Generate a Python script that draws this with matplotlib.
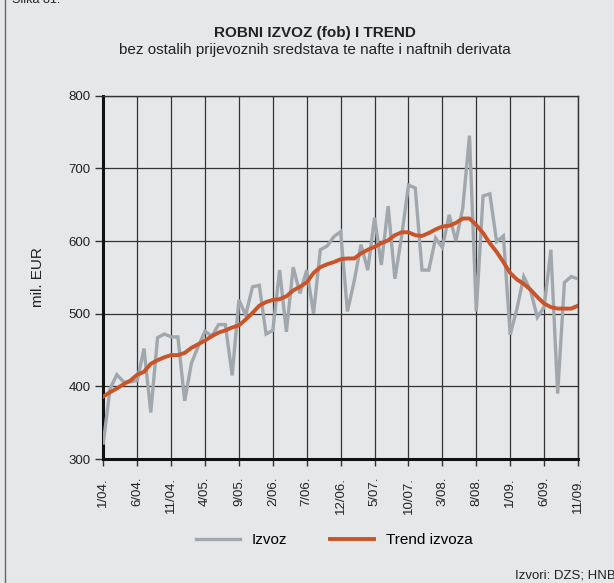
import matplotlib
matplotlib.use("Agg")
import matplotlib.pyplot as plt
from matplotlib.lines import Line2D

plt.rcParams['font.family'] = ['Liberation Sans', 'DejaVu Sans']

# monthly data, 1/04. .. 11/09.
izvoz = [322, 397, 416, 406, 406, 408, 452, 364, 467, 472,
         468, 468, 380, 432, 455, 476, 469, 485, 485, 415,
         519, 498, 537, 539, 472, 477, 560, 475, 564, 528,
         560, 500, 588, 593, 606, 613, 503, 545, 595, 560,
         632, 567, 648, 548, 607, 677, 673, 560, 560, 604,
         591, 636, 600, 645, 745, 503, 662, 665, 599, 607,
         471, 507, 551, 532, 495, 509, 588, 390, 543, 551,
         548]
trend = [386, 392, 397, 403, 408, 416, 420, 431, 436, 440,
         443, 443, 446, 453, 458, 463, 469, 474, 477, 481,
         484, 492, 501, 511, 516, 519, 520, 524, 532, 537,
         543, 556, 564, 568, 571, 575, 576, 576, 583, 588,
         592, 597, 601, 608, 612, 612, 608, 607, 611, 616,
         620, 621, 625, 631, 631, 622, 611, 597, 585, 571,
         556, 547, 541, 533, 523, 514, 509, 507, 507, 507,
         511]
tick_labels = ['1/04.', '6/04.', '11/04.', '4/05.', '9/05.', '2/06.', '7/06.',
               '12/06.', '5/07.', '10/07.', '3/08.', '8/08.', '1/09.', '6/09.', '11/09.']

bg = '#e6e7e9'
W, H = 614, 583
fig = plt.figure(figsize=(W / 100, H / 100), dpi=100, facecolor=bg)
ax = fig.add_axes([103.3 / W, 1 - 459 / H, (578 - 103.3) / W, (459 - 95.7) / H])
ax.set_facecolor(bg)

x = list(range(len(izvoz)))
ax.plot(x, izvoz, color='#a1a8ad', lw=2.4, solid_joinstyle='miter', zorder=3, label='Izvoz')
ax.plot(x, trend, color='#c9542a', lw=2.8, zorder=4, label='Trend izvoza')

ax.set_xlim(0, 70)
ax.set_ylim(300, 800)
ax.set_yticks([300, 400, 500, 600, 700, 800])
ax.set_xticks(range(0, 71, 5))
ax.set_xticklabels(tick_labels, rotation=90, fontsize=9.5, color='#222222')
ax.tick_params(axis='y', labelsize=9.5, length=6, width=1, color='#333333', labelcolor='#222222', pad=3)
ax.tick_params(axis='x', length=5, width=1, color='#333333', pad=8)
ax.grid(True, color='#333333', lw=0.9)
ax.set_axisbelow(True)
for s in ['left', 'bottom']:
    ax.spines[s].set_linewidth(2.2)
    ax.spines[s].set_color('#111111')
for s in ['top', 'right']:
    ax.spines[s].set_linewidth(1.0)
    ax.spines[s].set_color('#333333')

ax.set_ylabel('mil. EUR', fontsize=11, color='#222222', labelpad=17)

fig.text(315 / W, 1 - 33 / H, 'ROBNI IZVOZ (fob) I TREND', ha='center', va='center',
         fontsize=11, fontweight='bold', color='#222222')
fig.text(315 / W, 1 - 50 / H, 'bez ostalih prijevoznih sredstava te nafte i naftnih derivata',
         ha='center', va='center', fontsize=11, color='#222222')
fig.text(12 / W, 1 - 3 / H, 'Slika 81.', ha='left', va='baseline', fontsize=9, color='#222222')
fig.text(515 / W, 1 - 575 / H, 'Izvori: DZS; HNB', ha='left', va='center', fontsize=9.5, color='#222222')

fig.legend(loc='center', bbox_to_anchor=(334 / W, 1 - 540 / H), ncol=2, frameon=False,
           fontsize=11, handlelength=2.9, handletextpad=0.75, columnspacing=2.8)

fig.add_artist(Line2D([4.5 / W, 4.5 / W], [0, 1], color='#666666', lw=1.0))

fig.savefig('out.png', dpi=100, facecolor=bg)
